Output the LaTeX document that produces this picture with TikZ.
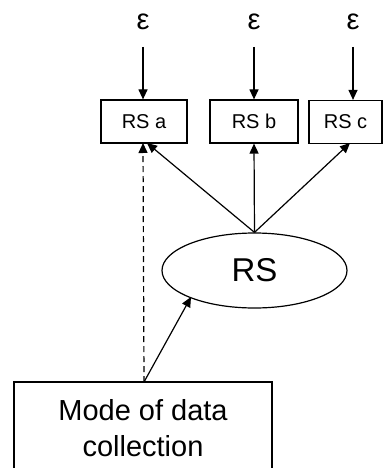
\documentclass[tikz,border=0pt]{standalone}
\usepackage{fontspec}
\setmainfont{Liberation Sans}
\usetikzlibrary{arrows.meta,shapes.geometric}
\begin{document}
\begin{tikzpicture}[x=1pt,y=-1pt,
  line width=1.2pt,
  arr/.style={-{Triangle[length=10pt,width=9pt]}},
  rsbox/.style={draw,rectangle,inner sep=0pt,minimum height=43pt,font=\fontsize{20}{24}\selectfont},
  errlabel/.style={anchor=base,inner sep=0pt,font=\fontsize{29}{34}\selectfont}]
\useasboundingbox (0,0) rectangle (386,468);
\fill[white] (0,0) rectangle (386,468);
% observed indicators
\node[rsbox,minimum width=86pt] (RSa) at (144,121.5) {RS a};
\node[rsbox,minimum width=88pt] (RSb) at (254,121.5) {RS b};
\node[rsbox,minimum width=73pt] (RSc) at (345.5,122) {RS c};
% error terms
\node[errlabel] (ea) at (143,30) {ε};
\node[errlabel] (eb) at (254,30) {ε};
\node[errlabel] (ec) at (353,30) {ε};
\coordinate (ta) at (143,47);
\coordinate (tb) at (254,47);
\coordinate (tc) at (353,47);
\draw[arr] (ta) -- (ta |- RSa.north);
\draw[arr] (tb) -- (tb |- RSb.north);
\draw[arr] (tc) -- (tc |- RSc.north);
% latent factor
\node[draw,ellipse,inner sep=0pt,minimum width=185pt,minimum height=75pt,
      font=\fontsize{33}{38}\selectfont] (RS) at (254.5,270.5) {RS};
\coordinate (ha) at (147,143);
\coordinate (hc) at (350,143);
\draw[arr] (RS.north) -- (ha);
\draw[arr] (RS.north) -- (RSb.south);
\draw[arr] (RS.north) -- (hc);
% method factor
\node[draw,rectangle,inner sep=0pt,minimum width=258pt,minimum height=92pt,
      align=center,font=\fontsize{29}{36}\selectfont] (mode) at (143,428)
      {Mode of data\\collection};
\coordinate (mtop) at (144,382);
\coordinate (ra) at (143,143);
\coordinate (rsin) at (191,297);
\draw[arr,dashed,dash pattern=on 6pt off 4pt] (mtop) -- (ra);
\draw[arr] (mtop) -- (rsin);
\end{tikzpicture}
\end{document}
